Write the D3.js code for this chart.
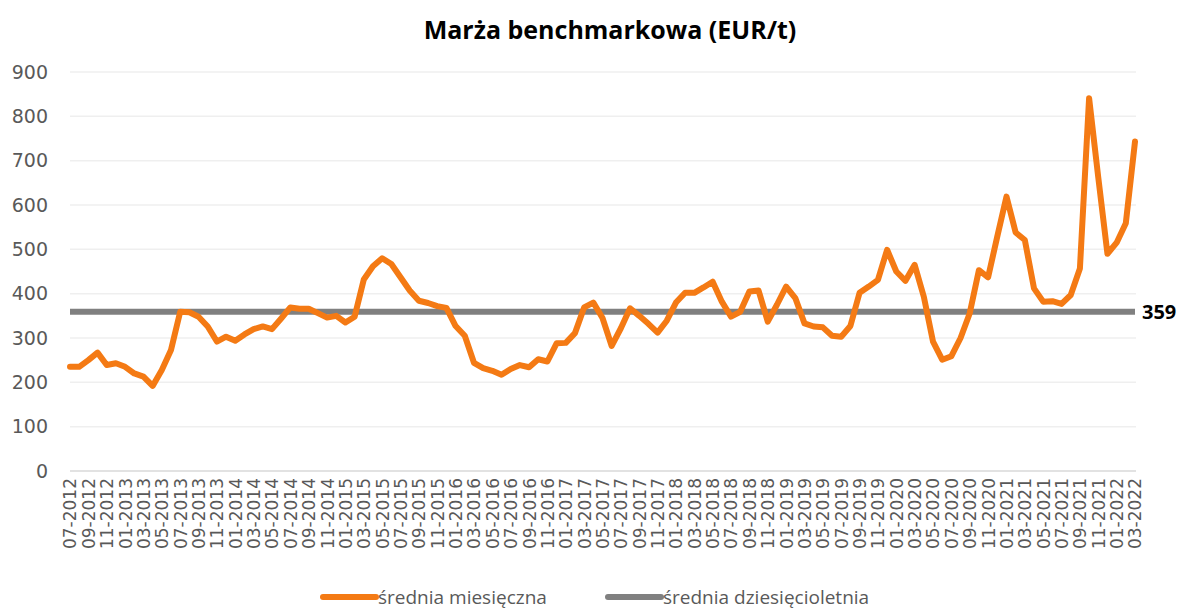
<!DOCTYPE html>
<html>
<head>
<meta charset="utf-8">
<script src="https://cdn.jsdelivr.net/npm/d3@7"></script>
<style>
  html, body { margin: 0; padding: 0; background: #fff; }
  #chart { width: 1181px; height: 610px; }
</style>
</head>
<body>
<div id="chart"></div>
<script>
const title = "Marża benchmarkowa (EUR/t)";

// 07-2012 .. 03-2022, monthly
const months = [];
for (let y = 2012, m = 7; y < 2022 || (y === 2022 && m <= 3); m++) {
  if (m > 12) { m = 1; y++; }
  if (y === 2022 && m > 3) break;
  months.push(`${String(m).padStart(2, "0")}-${y}`);
}

const monthlyAvg = [
  235, 235, 250, 267, 239, 243, 235, 220, 213, 192, 228, 273,
  359, 358, 348, 326, 292, 303, 294, 308, 320, 326, 320, 344,
  369, 366, 366, 356, 346, 350, 335, 348, 432, 462, 480, 467,
  437, 407, 384, 379, 372, 368, 327, 305, 244, 232, 226, 217,
  230, 239, 234, 252, 247, 288, 289, 311, 369, 380, 345, 282,
  322, 367, 350, 332, 312, 339, 380, 402, 402, 414, 427, 382,
  348, 359, 405, 407, 337, 375, 416, 390, 333, 326, 324, 305,
  303, 327, 402, 416, 431, 499, 450, 429, 465, 393, 292, 251,
  259, 300, 356, 453, 437, 529, 619, 538, 521, 412, 382, 383,
  377, 397, 457, 841, 662, 490, 515, 559, 743,
];

const tenYearAvg = 359;
const yTicks = [0, 100, 200, 300, 400, 500, 600, 700, 800, 900];
const seriesLabels = ["średnia miesięczna", "średnia dziesięcioletnia"];
const colors = ["#F47A14", "#808080"];

const width = 1181;
const height = 610;
const margin = { top: 72, right: 46, bottom: 139, left: 70 };

const svg = d3.select("#chart")
  .append("svg")
  .attr("width", width)
  .attr("height", height)
  .attr("viewBox", `0 0 ${width} ${height}`);

const x = d3.scalePoint()
  .domain(months)
  .range([margin.left, width - margin.right]);

const y = d3.scaleLinear()
  .domain([0, 900])
  .range([height - margin.bottom, margin.top]);

svg.append("text")
  .attr("x", 610)
  .attr("y", 39)
  .attr("text-anchor", "middle")
  .attr("font-family", "'Open Sans', sans-serif")
  .attr("font-weight", "bold")
  .attr("font-size", 25)
  .attr("fill", "#000")
  .text(title);

// gridlines
svg.append("g")
  .selectAll("line")
  .data(yTicks.filter((d) => d > 0))
  .join("line")
  .attr("x1", margin.left)
  .attr("x2", width - margin.right + 1)
  .attr("y1", (d) => y(d))
  .attr("y2", (d) => y(d))
  .attr("stroke", "#efefef")
  .attr("stroke-width", 1.5);

svg.append("line")
  .attr("x1", margin.left)
  .attr("x2", width - margin.right + 1)
  .attr("y1", y(0))
  .attr("y2", y(0))
  .attr("stroke", "#d9d9d9")
  .attr("stroke-width", 1.5);

svg.append("g")
  .attr("transform", `translate(${margin.left}, 0)`)
  .call(d3.axisLeft(y).tickValues(yTicks).tickSize(0).tickPadding(22))
  .call((g) => g.select(".domain").remove())
  .call((g) => g.selectAll(".tick text")
    .attr("fill", "#595959")
    .attr("font-family", "'DejaVu Sans', sans-serif")
    .attr("font-size", 19));

svg.append("g")
  .attr("transform", `translate(0, ${y(0)})`)
  .call(d3.axisBottom(x).tickValues(months.filter((d, i) => i % 2 === 0)).tickSize(0))
  .call((g) => g.select(".domain").remove())
  .call((g) => g.selectAll(".tick text")
    .attr("fill", "#595959")
    .attr("font-family", "'DejaVu Sans', sans-serif")
    .attr("font-size", 17)
    .attr("text-anchor", "end")
    .attr("transform", "rotate(-90)")
    .attr("x", -7)
    .attr("y", 0)
    .attr("dy", "0.35em"));

const line = d3.line()
  .x((d, i) => x(months[i]))
  .y((d) => y(d));

svg.append("path")
  .datum(months.map(() => tenYearAvg))
  .attr("fill", "none")
  .attr("stroke", colors[1])
  .attr("stroke-width", 6)
  .attr("d", line);

svg.append("path")
  .datum(monthlyAvg)
  .attr("fill", "none")
  .attr("stroke", colors[0])
  .attr("stroke-width", 6)
  .attr("stroke-linejoin", "round")
  .attr("stroke-linecap", "round")
  .attr("d", line);

svg.append("text")
  .attr("x", width - margin.right + 7)
  .attr("y", y(tenYearAvg))
  .attr("dy", "0.35em")
  .attr("font-family", "'Open Sans', sans-serif")
  .attr("font-weight", "bold")
  .attr("font-size", 20)
  .attr("fill", "#000")
  .text(tenYearAvg);

// legend
const legendX = [320, 605];
const legend = svg.append("g").attr("transform", "translate(0, 597)");
seriesLabels.forEach((label, i) => {
  const entry = legend.append("g").attr("transform", `translate(${legendX[i]}, 0)`);
  entry.append("line")
    .attr("x1", 3)
    .attr("x2", 56)
    .attr("stroke", colors[i])
    .attr("stroke-width", 6)
    .attr("stroke-linecap", "round");
  entry.append("text")
    .attr("x", 58)
    .attr("y", 0)
    .attr("dy", "0.35em")
    .attr("fill", "#595959")
    .attr("font-family", "'Open Sans', sans-serif")
    .attr("font-size", 19)
    .text(label);
});
</script>
</body>
</html>
